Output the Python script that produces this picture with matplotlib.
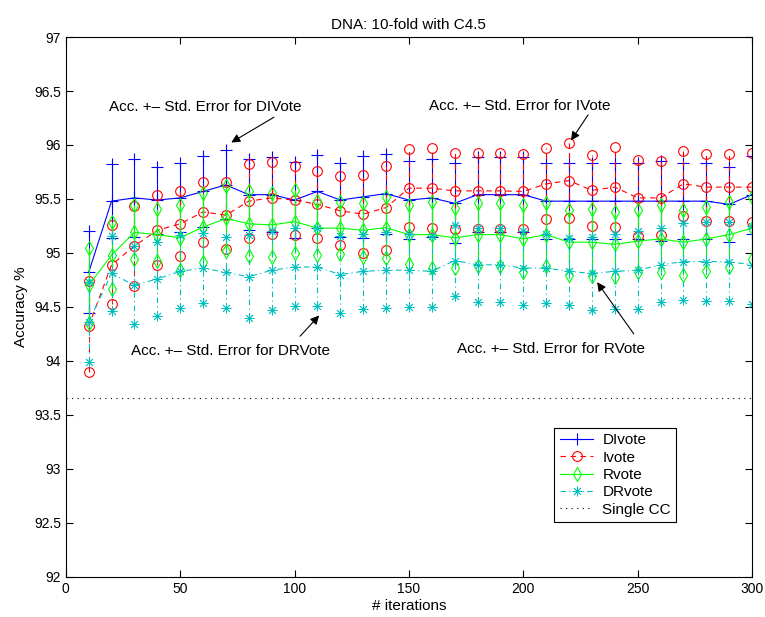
import matplotlib
matplotlib.use('Agg')
import matplotlib.pyplot as plt
import numpy as np
from matplotlib.ticker import FormatStrFormatter

plt.rcParams['font.family'] = ['Liberation Sans', 'DejaVu Sans']

iters = list(range(10, 301, 10))

divote = [94.82, 95.48, 95.51, 95.49, 95.51, 95.57, 95.63, 95.54, 95.54, 95.49,
          95.57, 95.49, 95.52, 95.55, 95.49, 95.51, 95.46, 95.54, 95.54, 95.54,
          95.48, 95.48, 95.48, 95.48, 95.48, 95.48, 95.48, 95.48, 95.45, 95.54]
divote_se = [0.38, 0.34, 0.36, 0.31, 0.32, 0.33, 0.32, 0.33, 0.35, 0.35,
             0.34, 0.34, 0.38, 0.37, 0.36, 0.36, 0.37, 0.35, 0.35, 0.35,
             0.355, 0.355, 0.355, 0.355, 0.355, 0.37, 0.355, 0.355, 0.35, 0.36]

ivote = [94.32, 94.89, 95.065, 95.21, 95.27, 95.38, 95.35, 95.48, 95.51, 95.49,
         95.45, 95.39, 95.36, 95.42, 95.60, 95.60, 95.575, 95.575, 95.575, 95.57,
         95.64, 95.67, 95.58, 95.61, 95.51, 95.51, 95.64, 95.61, 95.61, 95.61]
ivote_se = [0.42, 0.365, 0.37, 0.325, 0.30, 0.28, 0.31, 0.34, 0.33, 0.32,
            0.31, 0.32, 0.36, 0.39, 0.36, 0.37, 0.35, 0.35, 0.35, 0.35,
            0.33, 0.35, 0.33, 0.37, 0.355, 0.34, 0.30, 0.31, 0.31, 0.32]

rvote = [94.70, 94.98, 95.19, 95.17, 95.14, 95.24, 95.32, 95.27, 95.26, 95.29,
         95.23, 95.23, 95.21, 95.235, 95.17, 95.17, 95.14, 95.17, 95.17, 95.13,
         95.17, 95.10, 95.10, 95.08, 95.11, 95.13, 95.10, 95.13, 95.17, 95.23]
rvote_se = [0.345, 0.31, 0.25, 0.24, 0.30, 0.32, 0.30, 0.30, 0.30, 0.29,
            0.25, 0.24, 0.25, 0.285, 0.27, 0.305, 0.28, 0.29, 0.29, 0.31,
            0.29, 0.30, 0.31, 0.30, 0.29, 0.31, 0.30, 0.30, 0.30, 0.29]

drvote = [94.36, 94.81, 94.70, 94.76, 94.83, 94.86, 94.82, 94.78, 94.84, 94.87,
          94.87, 94.80, 94.83, 94.84, 94.84, 94.83, 94.93, 94.89, 94.89, 94.86,
          94.86, 94.83, 94.81, 94.83, 94.84, 94.89, 94.92, 94.92, 94.92, 94.89]
drvote_se = [0.37, 0.35, 0.36, 0.345, 0.34, 0.325, 0.33, 0.385, 0.365, 0.365,
             0.36, 0.355, 0.35, 0.35, 0.34, 0.33, 0.33, 0.345, 0.345, 0.345,
             0.32, 0.31, 0.34, 0.35, 0.36, 0.34, 0.36, 0.365, 0.365, 0.36]

single_cc = 93.66

fig = plt.figure(figsize=(7.65, 6.17), dpi=100)
ax = fig.add_axes([0.086, 0.065, 0.897, 0.875])

def serie(m, se, cor, estilo, marca, nome, ms, mew=0.8):
    x = np.array(iters)
    m = np.array(m)
    se = np.array(se)
    ax.vlines(x, m - se, m + se, colors=cor, linestyles=estilo, lw=0.8)
    h, = ax.plot(x, m, color=cor, ls=estilo, lw=0.8, marker=marca, ms=ms,
                 mfc='none', mew=mew, label=nome)
    ax.plot(x, m + se, ls='none', color=cor, marker=marca, ms=ms, mfc='none', mew=mew)
    ax.plot(x, m - se, ls='none', color=cor, marker=marca, ms=ms, mfc='none', mew=mew)
    return h

# asterisco tipo matlab
asterisco = (8, 2, 0)

serie(divote, divote_se, 'b', '-', '+', 'DIvote', 9)
serie(ivote, ivote_se, 'r', (0, (5, 4)), 'o', 'Ivote', 7)
serie(rvote, rvote_se, '#00ff00', '-', 'd', 'Rvote', 7)
serie(drvote, drvote_se, 'c', (0, (5, 3, 1, 3)), asterisco, 'DRvote', 7, 0.6)
ax.plot([0, 300], [single_cc, single_cc], color='k', ls=(0, (1, 4)), lw=0.8, label='Single CC')

ax.set_xlim(0, 300)
ax.set_ylim(92, 97)
ax.set_xticks(np.arange(0, 301, 50))
ax.set_yticks(np.arange(92, 97.01, 0.5))
ax.yaxis.set_major_formatter(FormatStrFormatter('%g'))
ax.tick_params(direction='in', top=True, right=True, length=5, labelsize=10)
for s in ax.spines.values():
    s.set_linewidth(0.8)

ax.set_title('DNA: 10-fold with C4.5', fontsize=11)
ax.set_xlabel('# iterations', fontsize=11, labelpad=2)
ax.set_ylabel('Accuracy %', fontsize=11)

seta = dict(arrowstyle='-|>', color='k', lw=0.8, mutation_scale=13)
ax.text(18.8, 96.35, 'Acc. +\u2013 Std. Error for DIVote', fontsize=11, va='center')
ax.annotate('', xy=(71.3, 96.01), xytext=(92, 96.27), arrowprops=seta)
ax.text(159, 96.36, 'Acc. +\u2013 Std. Error for IVote', fontsize=11, va='center')
ax.annotate('', xy=(220.2, 96.02), xytext=(229, 96.30), arrowprops=seta)
ax.text(28.5, 94.09, 'Acc. +\u2013 Std. Error for DRVote', fontsize=11, va='center')
ax.annotate('', xy=(111.6, 94.44), xytext=(101.6, 94.21), arrowprops=seta)
ax.text(171, 94.11, 'Acc. +\u2013 Std. Error for RVote', fontsize=11, va='center')
ax.annotate('', xy=(231.6, 94.75), xytext=(249, 94.23), arrowprops=seta)

leg = ax.legend(loc='upper left', bbox_to_anchor=(0.712, 0.276), fontsize=11,
                fancybox=False, edgecolor='k', framealpha=1, handlelength=2.2,
                borderpad=0.35, labelspacing=0.22, handletextpad=0.6, borderaxespad=0)
leg.get_frame().set_linewidth(0.8)

fig.savefig('out.png', dpi=100)
